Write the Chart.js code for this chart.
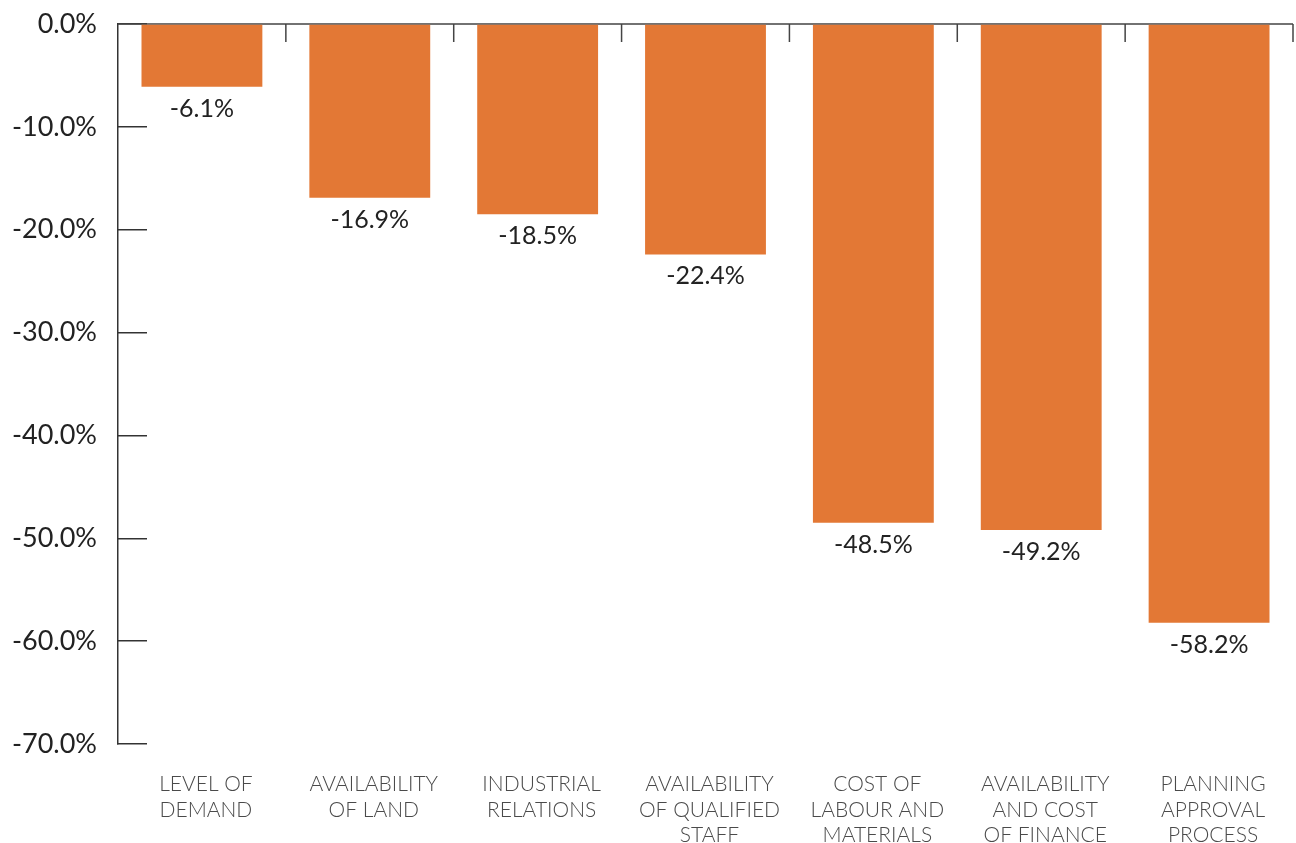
<!DOCTYPE html>
<html>
<head>
<meta charset="utf-8">
<script src="https://cdn.jsdelivr.net/npm/chart.js@4.4.1/dist/chart.umd.min.js"></script>
<style>
  html, body { margin: 0; padding: 0; background: #fff; }
  #wrap { width: 1296px; height: 843px; }
</style>
</head>
<body>
<div id="wrap"><canvas id="chart"></canvas></div>
<script>
const categories = [
  ["LEVEL OF", "DEMAND"],
  ["AVAILABILITY", "OF LAND"],
  ["INDUSTRIAL", "RELATIONS"],
  ["AVAILABILITY", "OF QUALIFIED", "STAFF"],
  ["COST OF", "LABOUR AND", "MATERIALS"],
  ["AVAILABILITY", "AND COST", "OF FINANCE"],
  ["PLANNING", "APPROVAL", "PROCESS"]
];
const values = [-6.1, -16.9, -18.5, -22.4, -48.5, -49.2, -58.2];
const yMin = -70;
const yMax = 0;
const yStep = 10;

// line along zero with small marks between the categories
const topAxis = {
  id: "topAxis",
  beforeDatasetsDraw(chart) {
    const ctx = chart.ctx;
    const x = chart.scales.x;
    const y0 = chart.scales.y.getPixelForValue(0);
    const half = (x.getPixelForValue(1) - x.getPixelForValue(0)) / 2;
    ctx.save();
    ctx.strokeStyle = "#444";
    ctx.lineWidth = 1.5;
    ctx.beginPath();
    ctx.moveTo(chart.chartArea.left, y0);
    ctx.lineTo(chart.chartArea.right, y0);
    for (let i = 0; i < categories.length; i++) {
      const bx = x.getPixelForValue(i) + half;
      ctx.moveTo(bx, y0);
      ctx.lineTo(bx, y0 + 18);
    }
    ctx.stroke();
    ctx.restore();
  }
};

const valueLabels = {
  id: "valueLabels",
  afterDatasetsDraw(chart) {
    const ctx = chart.ctx;
    const meta = chart.getDatasetMeta(0);
    ctx.save();
    ctx.font = "25px Lato";
    ctx.fillStyle = "#222";
    ctx.textAlign = "center";
    ctx.textBaseline = "middle";
    meta.data.forEach((bar, i) => {
      ctx.fillText(values[i].toFixed(1) + "%", bar.x, bar.y + 22);
    });
    ctx.restore();
  }
};

new Chart(document.getElementById("chart"), {
  type: "bar",
  data: {
    labels: categories,
    datasets: [{
      data: values,
      backgroundColor: "#e37835",
      borderWidth: 0
    }]
  },
  options: {
    responsive: true,
    maintainAspectRatio: false,
    animation: false,
    layout: { padding: { top: 24, right: 3, left: 0, bottom: 0 } },
    plugins: { legend: { display: false }, tooltip: { enabled: false } },
    scales: {
      x: {
        grid: { display: false },
        border: { display: false },
        ticks: {
          color: "#4a4a4a",
          font: { family: "Lato", size: 21, weight: 300, lineHeight: 1.2 },
          padding: 20,
          labelOffset: 4,
          maxRotation: 0,
          autoSkip: false
        },
        afterFit(scale) {
          scale.height = 99;
          scale.paddingLeft = 0;
          scale.paddingRight = 0;
        }
      },
      y: {
        min: yMin,
        max: yMax,
        border: { display: true, color: "#333", width: 1.5 },
        grid: {
          drawOnChartArea: false,
          color: "#333",
          lineWidth: 1.5,
          tickLength: -29
        },
        ticks: {
          stepSize: yStep,
          color: "#222",
          padding: 50,
          font: { family: "Lato", size: 27 },
          callback: (v) => v.toFixed(1) + "%"
        },
        afterFit(scale) {
          scale.width = 118;
          scale.paddingTop = 0;
          scale.paddingBottom = 0;
        }
      }
    }
  },
  plugins: [topAxis, valueLabels]
});
</script>
</body>
</html>
